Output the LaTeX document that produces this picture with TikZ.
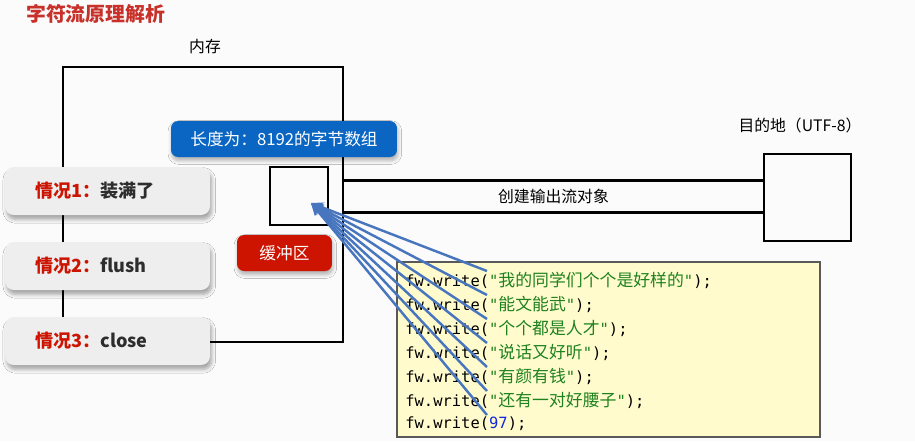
\documentclass[tikz,border=0pt]{standalone}
\usepackage{fontspec}
\setmainfont{Noto Sans CJK SC}
\newfontfamily\codefont{DejaVu Sans Mono}
\usepackage{tikz}
\usetikzlibrary{arrows.meta, positioning, shadows.blur}

\definecolor{titlered}{RGB}{200,48,42}
\definecolor{labelblue}{RGB}{10,102,194}
\definecolor{labelred}{RGB}{204,20,0}
\definecolor{casegray}{RGB}{238,238,238}
\definecolor{casetext}{RGB}{45,45,45}
\definecolor{codebg}{RGB}{255,251,205}
\definecolor{strgreen}{RGB}{30,130,30}
\definecolor{numblue}{RGB}{20,40,220}
\definecolor{arrowblue}{RGB}{72,118,190}

\newcommand{\zh}[1]{\textcolor{strgreen}{"{\rmfamily\fontsize{9.6}{10}\selectfont #1}"}}

\begin{document}
\begin{tikzpicture}[x=0.02cm, y=-0.02cm,
    box/.style={draw, line width=1.4pt, inner sep=0pt},
    casebox/.style={fill=casegray, rounded corners=5pt, minimum width=4.1cm, minimum height=0.96cm,
        text width=2.9cm, align=left, font=\bfseries\fontsize{10.3}{12}\selectfont, text=casetext,
        blur shadow={shadow xshift=1pt, shadow yshift=-2.5pt, shadow blur steps=6, shadow opacity=35}},
    tag/.style={rounded corners=4pt, minimum height=0.72cm, text=white,
        font=\fontsize{9.5}{11}\selectfont,
        blur shadow={shadow xshift=0.5pt, shadow yshift=-2pt, shadow blur steps=5, shadow opacity=30}},
    codeline/.style={anchor=west, inner sep=0pt, font=\codefont\fontsize{8.8}{10}\selectfont},
    feed/.style={-{Stealth[length=7pt, width=6pt]}, draw=arrowblue, line width=1.4pt}
]
\useasboundingbox (0,0) rectangle (915,441);
\fill[gray!3] (0,0) rectangle (915,441);

% title and captions
\node (title) [anchor=west, text=titlered, font=\bfseries\fontsize{11.3}{13}\selectfont] at (20,14) {字符流原理解析};
\node (memcap) [font=\fontsize{9}{11}\selectfont] at (205,46) {内存};
\node (destcap) [font=\fontsize{9}{11}\selectfont] at (800,125) {目的地（UTF-8）};

% memory, buffer, destination
\node (mem) [box, minimum width=5.6cm, minimum height=5.5cm] at (203,204.5) {};
\node (buf) [box, minimum width=1.16cm, minimum height=1.16cm] at (299,196) {};
\node (dest) [box, minimum width=1.74cm, minimum height=1.74cm] at (807.5,197.5) {};

\node (len) [tag, fill=labelblue, minimum width=4.52cm] at (284,139) {长度为：8192的字节数组};
\node (bufname) [tag, fill=labelred, minimum width=1.9cm] at (284.5,253) {缓冲区};

% output stream pipe
\node (pipe) [minimum width=8.42cm, minimum height=0.62cm, inner sep=0pt, font=\fontsize{9}{11}\selectfont] at (553.5,196.5) {创建输出流对象};
\draw[line width=1.4pt] (pipe.north west) -- (pipe.north east);
\draw[line width=1.4pt] (pipe.south west) -- (pipe.south east);

% cases
\node (case1) [casebox] at (107.5,191) {\textcolor{labelred}{情况1：}装满了};
\node (case2) [casebox] at (107.5,266) {\textcolor{labelred}{情况2：}flush};
\node (case3) [casebox] at (107.5,341) {\textcolor{labelred}{情况3：}close};

% code
\node (code) [draw=gray!70!black, line width=0.8pt, fill=codebg, minimum width=8.46cm, minimum height=3.5cm] at (608.5,349.5) {};
\node (l1) [codeline] at (405,280) {fw.write(\zh{我的同学们个个是好样的});};
\node (l2) [codeline] at (405,304) {fw.write(\zh{能文能武});};
\node (l3) [codeline] at (405,328) {fw.write(\zh{个个都是人才});};
\node (l4) [codeline] at (405,352) {fw.write(\zh{说话又好听});};
\node (l5) [codeline] at (405,376) {fw.write(\zh{有颜有钱});};
\node (l6) [codeline] at (405,400) {fw.write(\zh{还有一对好腰子});};
\node (l7) [codeline] at (405,424) {fw.write(\textcolor{numblue}{97});};

\coordinate (tip) at (311,203);
\foreach \i in {1,...,7} {
  \coordinate (q\i) at ([xshift=1.64cm, yshift=0.18cm]l\i.west);
  \draw[feed] (q\i) -- (tip);
}
\end{tikzpicture}
\end{document}
